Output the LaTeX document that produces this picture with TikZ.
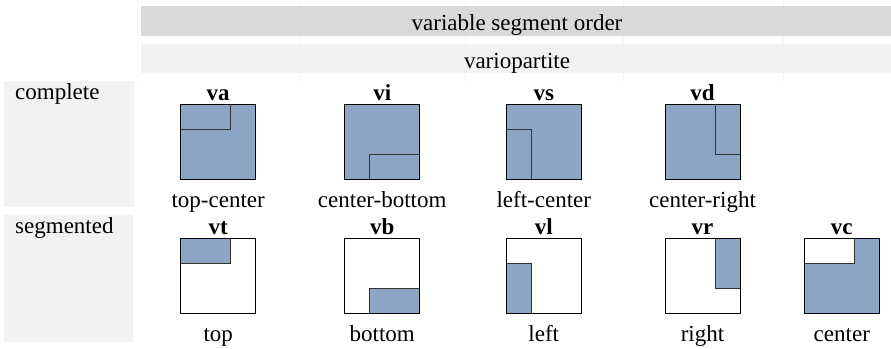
\documentclass[tikz,border=0pt]{standalone}
\usepackage{fontspec}
\setmainfont{Liberation Serif}
\newfontfamily\garfont{Liberation Serif}
\definecolor{fillblue}{HTML}{8EA6C5}
\definecolor{barA}{HTML}{D9D9D9}
\definecolor{barB}{HTML}{F2F2F2}
\definecolor{gridl}{HTML}{F4F4F4}
\definecolor{innerl}{HTML}{333333}
\tikzset{
  sq/.style={draw=black, line width=0.8pt, minimum size=75pt, inner sep=0pt, outer sep=0pt},
  inl/.style={draw=innerl, line width=0.8pt},
  txt/.style={font=\garfont\fontsize{23}{27}\selectfont, anchor=base, inner sep=0pt},
  btxt/.style={font=\garfont\fontsize{23}{27}\selectfont\bfseries, anchor=base, inner sep=0pt},
  cell/.style={inner sep=0pt, outer sep=0pt, anchor=north west}
}
\begin{document}
\begin{tikzpicture}[x=1pt,y=-1pt]
\useasboundingbox (0,0) rectangle (891,348);
% faint table rules
\foreach \gx in {137.5,299,465,623,783}
  \draw[gridl, line width=0.5pt] (\gx,0) -- (\gx,81);
% header bars
\node[cell, fill=barA, minimum width=750pt, minimum height=29.7pt] (barone) at (141,6) {};
\node[cell, fill=barB, minimum width=750pt, minimum height=29pt] (bartwo) at (141,44.3) {};
\node[txt] (hdrone) at (517,30) {variable segment order};
\node[txt] (hdrtwo) at (517,68) {variopartite};
% row label cells
\node[cell, fill=barB, minimum width=130pt, minimum height=126pt] (cellc) at (4,81) {};
\node[cell, fill=barB, minimum width=129pt, minimum height=127pt] (cells) at (4,215) {};
\node[txt, anchor=base west] (lc) at (15,99.5) {complete};
\node[txt, anchor=base west] (ls) at (15,233.5) {segmented};
% ---------- row 1 ----------
\node[sq, fill=fillblue] (va) at (218.2,141.8) {};
\node[sq, fill=fillblue] (vi) at (382.2,141.8) {};
\node[sq, fill=fillblue] (vs) at (543.8,141.8) {};
\node[sq, fill=fillblue] (vd) at (702.5,141.8) {};
\begin{scope}[shift={(va.north west)}]
  \draw[inl] (0,25) -- (50,25) -- (50,0);
\end{scope}
\begin{scope}[shift={(vi.north west)}]
  \draw[inl] (25,75) -- (25,50) -- (75,50);
\end{scope}
\begin{scope}[shift={(vs.north west)}]
  \draw[inl] (0,25) -- (25,25) -- (25,75);
\end{scope}
\begin{scope}[shift={(vd.north west)}]
  \draw[inl] (50,0) -- (50,50) -- (75,50);
\end{scope}
\node[btxt] (tva) at (218.2,100.5) {va};
\node[btxt] (tvi) at (382.2,100.5) {vi};
\node[btxt] (tvs) at (543.8,100.5) {vs};
\node[btxt] (tvd) at (702.5,100.5) {vd};
\node[txt] (nva) at (218.2,207) {top-center};
\node[txt] (nvi) at (382.2,207) {center-bottom};
\node[txt] (nvs) at (543.8,207) {left-center};
\node[txt] (nvd) at (702.5,207) {center-right};
% ---------- row 2 ----------
\node[sq, fill=white] (vt) at (218.2,275.8) {};
\node[sq, fill=white] (vb) at (382.2,275.8) {};
\node[sq, fill=white] (vl) at (543.8,275.8) {};
\node[sq, fill=white] (vr) at (702.5,275.8) {};
\node[sq, fill=fillblue] (vc) at (841.8,275.8) {};
\begin{scope}[shift={(vt.north west)}]
  \filldraw[fill=fillblue, inl] (0,0) rectangle (50,25);
\end{scope}
\begin{scope}[shift={(vb.north west)}]
  \filldraw[fill=fillblue, inl] (25,50) rectangle (75,75);
\end{scope}
\begin{scope}[shift={(vl.north west)}]
  \filldraw[fill=fillblue, inl] (0,25) rectangle (25,75);
\end{scope}
\begin{scope}[shift={(vr.north west)}]
  \filldraw[fill=fillblue, inl] (50,0) rectangle (75,50);
\end{scope}
\begin{scope}[shift={(vc.north west)}]
  \filldraw[fill=white, inl] (0,0) rectangle (50,25);
\end{scope}
\node[sq] (vto) at (vt) {};
\node[sq] (vbo) at (vb) {};
\node[sq] (vlo) at (vl) {};
\node[sq] (vro) at (vr) {};
\node[sq] (vco) at (vc) {};
\node[btxt] (tvt) at (218.2,234.5) {vt};
\node[btxt] (tvb) at (382.2,234.5) {vb};
\node[btxt] (tvl) at (543.8,234.5) {vl};
\node[btxt] (tvr) at (702.5,234.5) {vr};
\node[btxt] (tvc) at (841.8,234.5) {vc};
\node[txt] (nvt) at (218.2,341) {top};
\node[txt] (nvb) at (382.2,341) {bottom};
\node[txt] (nvl) at (543.8,341) {left};
\node[txt] (nvr) at (702.5,341) {right};
\node[txt] (nvc) at (841.8,341) {center};
\end{tikzpicture}
\end{document}
